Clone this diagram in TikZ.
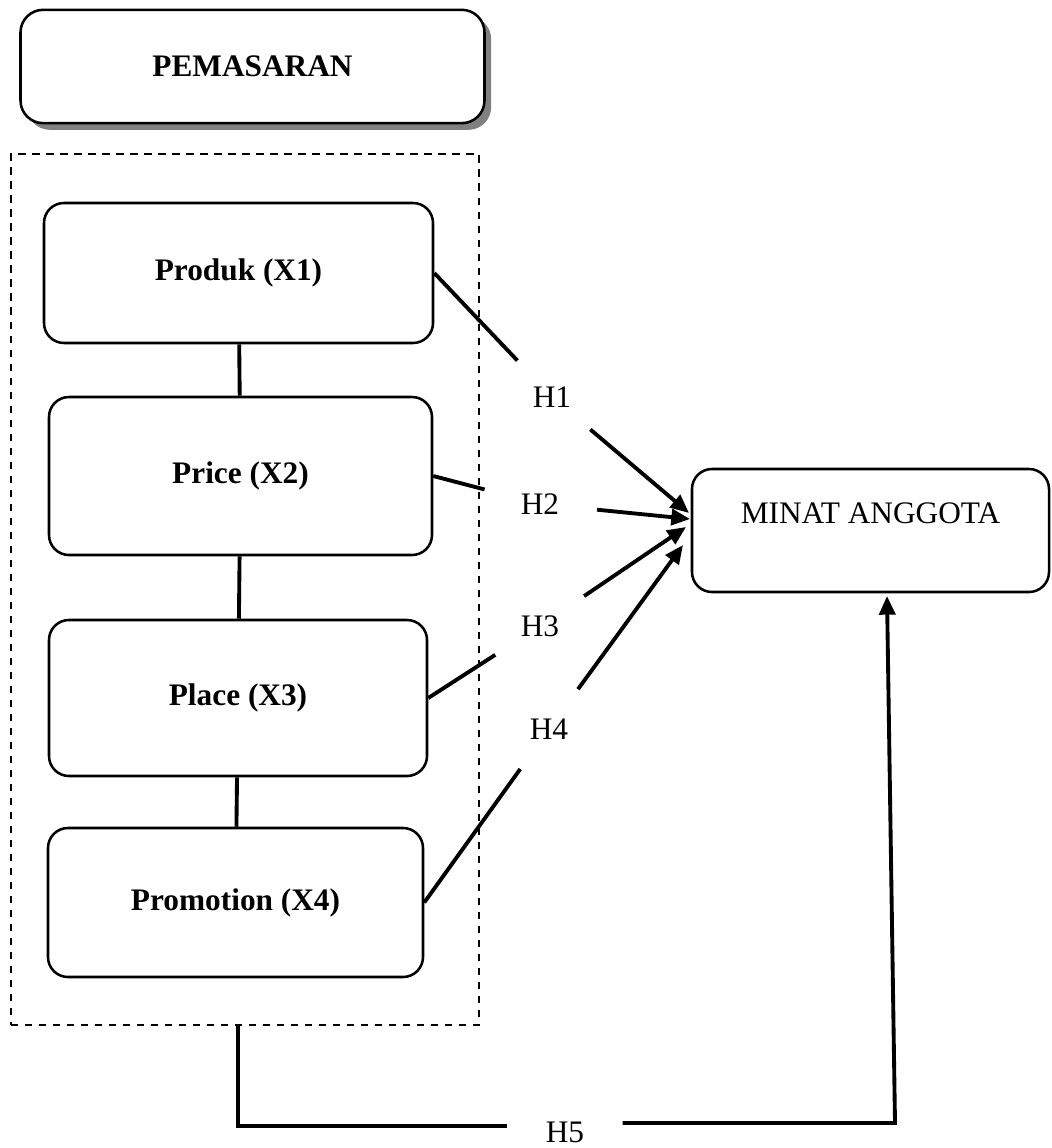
\documentclass[tikz,border=0pt]{standalone}
\usepackage{fontspec}
\setmainfont{Liberation Serif}
\usetikzlibrary{arrows.meta,shadows,positioning}
\tikzset{>={Triangle[length=14pt,width=12pt]}}
\newcommand{\figfont}{\fontsize{23.5}{28}\selectfont}

\begin{document}
\begin{tikzpicture}[x=0.75pt,y=-0.75pt,
	every node/.style={font=\figfont},
	varbox/.style={draw,line width=1.9pt,rounded corners=15pt,font=\figfont\bfseries},
	hlabel/.style={circle,inner sep=0pt},
	link/.style={line width=2.9pt}]
	\useasboundingbox (0,0) rectangle (1051,1148);
	
	\node[varbox,rounded corners=17pt,fill=white,minimum width=348pt,minimum height=85pt,
		drop shadow={shadow xshift=5pt,shadow yshift=-5pt,fill=black!50,opacity=1}] (PM) at (252.5,66.5) {PEMASARAN};
	\node[draw,line width=1.1pt,dash pattern=on 5.5pt off 5pt,minimum width=351pt,minimum height=653pt] (grp) at (245,589.5) {};
	
	%Variabel
	\node[varbox,minimum width=291.75pt,minimum height=105pt] (X1) at (238.5,273) {Produk (X1)};
	\node[varbox,minimum width=287.25pt,minimum height=118.5pt] (X2) at (240.5,476) {Price (X2)};
	\node[varbox,minimum width=283.5pt,minimum height=117pt] (X3) at (238,698) {Place (X3)};
	\node[varbox,minimum width=281.25pt,minimum height=111.75pt] (X4) at (235.5,902.5) {Promotion (X4)};
	\node[varbox,minimum width=267.75pt,minimum height=92.25pt,
		label={[font=\figfont,yshift=12.75pt]center:MINAT ANGGOTA}] (Y) at (870.5,530.5) {};
	
	%Hipotesis
	\node[hlabel,minimum size=75pt] (H1) at (552,397) {H1};
	\node[hlabel,minimum size=85.5pt] (H2) at (540,504) {H2};
	\node[hlabel,minimum size=79.5pt] (H3) at (540,626) {H3};
	\node[hlabel,minimum size=73.5pt] (H4) at (549,729) {H4};
	\node[minimum width=86pt,inner sep=0pt] (H5) at (565,1132) {H5};
	
	\coordinate (T1) at (689,513);
	\coordinate (T2) at (690,519);
	\coordinate (T3) at (686,527);
	\coordinate (T4) at (683,545);
	\coordinate (T5) at (887,596);
	\coordinate (C1) at (238,1126);
	\coordinate (C2) at (895,1123);
	
	\draw[link] (X1) -- (X2);
	\draw[link] (X2) -- (X3);
	\draw[link] (X3) -- (X4);
	
	\draw[link] (X1.east) -- (H1);
	\draw[link,->] (H1) -- (T1);
	\draw[link] (X2.east) -- (H2);
	\draw[link,->] (H2) -- (T2);
	\draw[link] (X3.east) -- (H3);
	\draw[link,->] (H3) -- (T3);
	\draw[link] (X4.east) -- (H4);
	\draw[link,->] (H4) -- (T4);
	
	\draw[link] (C1 |- grp.south) -- (C1) -- (C1 -| H5.west);
	\draw[link,->] (C2 -| H5.east) -- (C2) -- (T5);
\end{tikzpicture}
\end{document}
